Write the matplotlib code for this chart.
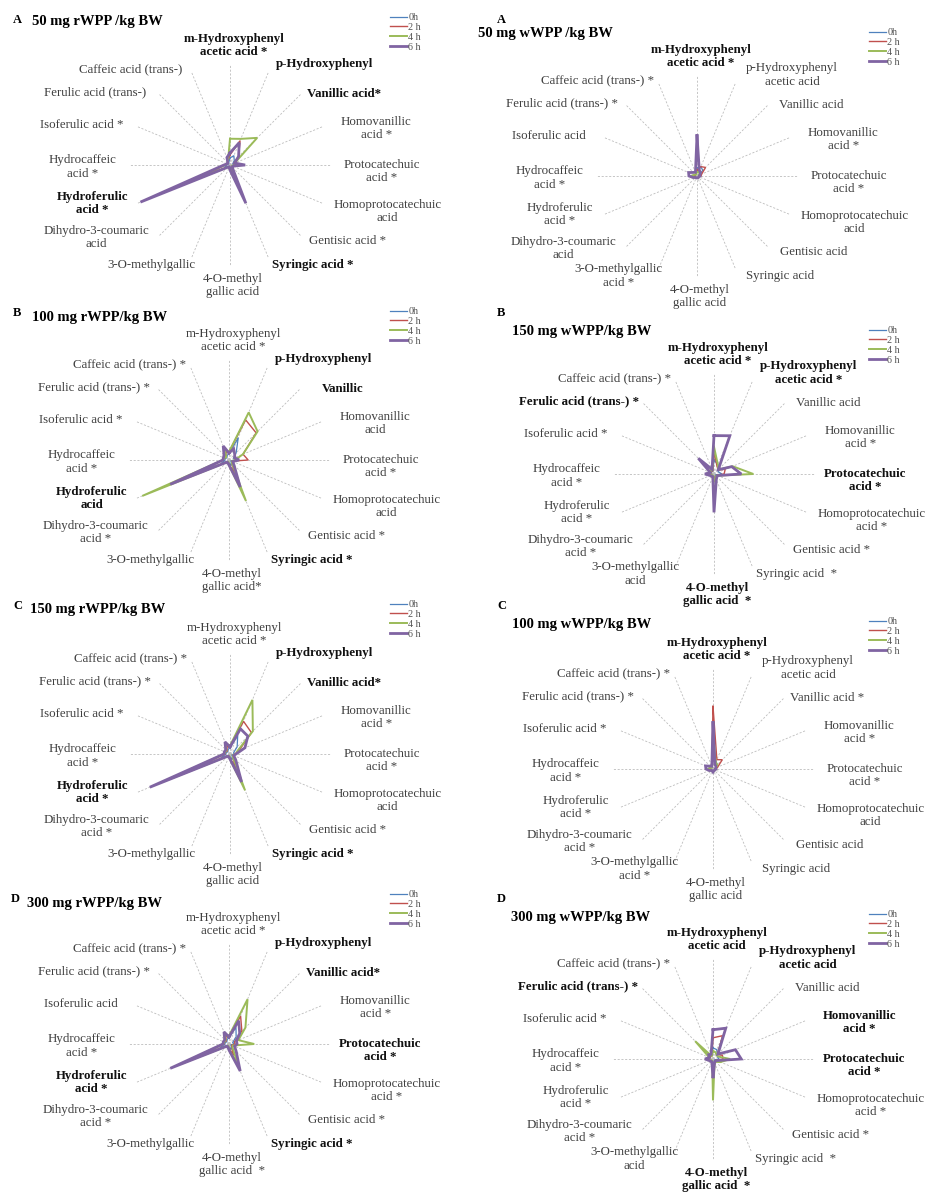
import numpy as np
import matplotlib
matplotlib.use("Agg")
import matplotlib.pyplot as plt

plt.rcParams['font.family'] = ['Liberation Serif', 'DejaVu Serif']

# axes of every radar, clockwise from the top
acids = ['m-Hydroxyphenyl acetic acid', 'p-Hydroxyphenyl acetic acid', 'Vanillic acid',
         'Homovanillic acid', 'Protocatechuic acid', 'Homoprotocatechuic acid',
         'Gentisic acid', 'Syringic acid', '4-O-methyl gallic acid', '3-O-methylgallic acid',
         'Dihydro-3-coumaric acid', 'Hydroferulic acid', 'Hydrocaffeic acid',
         'Isoferulic acid', 'Ferulic acid (trans-)', 'Caffeic acid (trans-)']
times = ['0h', '2 h', '4 h', '6 h']

# values, as a fraction of the spoke length (0h, 2h, 4h, 6h)
rwpp_50 = [
    [0.07, 0.10, 0.06, 0.03, 0.04, 0.02, 0.02, 0.05, 0.03, 0.02, 0.02, 0.06, 0.03, 0.02, 0.02, 0.03],
    [0.10, 0.26, 0.12, 0.04, 0.06, 0.02, 0.03, 0.10, 0.04, 0.02, 0.03, 0.25, 0.05, 0.03, 0.03, 0.05],
    [0.26, 0.28, 0.38, 0.05, 0.05, 0.02, 0.03, 0.18, 0.04, 0.02, 0.03, 0.50, 0.05, 0.03, 0.03, 0.05],
    [0.12, 0.24, 0.12, 0.05, 0.15, 0.03, 0.03, 0.41, 0.05, 0.02, 0.03, 0.96, 0.06, 0.03, 0.03, 0.08]]
rwpp_100 = [
    [0.06, 0.24, 0.10, 0.05, 0.06, 0.02, 0.03, 0.06, 0.03, 0.02, 0.02, 0.08, 0.04, 0.04, 0.03, 0.05],
    [0.08, 0.43, 0.38, 0.15, 0.19, 0.03, 0.04, 0.15, 0.04, 0.02, 0.03, 0.35, 0.06, 0.05, 0.04, 0.08],
    [0.08, 0.51, 0.40, 0.15, 0.06, 0.03, 0.04, 0.44, 0.05, 0.02, 0.03, 0.93, 0.06, 0.05, 0.04, 0.10],
    [0.07, 0.12, 0.08, 0.06, 0.10, 0.04, 0.07, 0.29, 0.05, 0.03, 0.03, 0.63, 0.06, 0.06, 0.07, 0.15]]
rwpp_150 = [
    [0.06, 0.20, 0.10, 0.04, 0.04, 0.02, 0.03, 0.06, 0.03, 0.02, 0.02, 0.10, 0.04, 0.04, 0.03, 0.05],
    [0.07, 0.35, 0.30, 0.10, 0.05, 0.03, 0.04, 0.15, 0.04, 0.02, 0.03, 0.40, 0.05, 0.05, 0.04, 0.08],
    [0.08, 0.58, 0.32, 0.08, 0.06, 0.03, 0.04, 0.39, 0.05, 0.02, 0.03, 0.70, 0.06, 0.05, 0.05, 0.12],
    [0.07, 0.27, 0.25, 0.16, 0.06, 0.04, 0.08, 0.30, 0.05, 0.03, 0.03, 0.86, 0.06, 0.06, 0.06, 0.13]]
rwpp_300 = [
    [0.06, 0.18, 0.10, 0.04, 0.05, 0.02, 0.03, 0.06, 0.03, 0.02, 0.02, 0.10, 0.04, 0.04, 0.03, 0.05],
    [0.08, 0.30, 0.18, 0.06, 0.06, 0.03, 0.04, 0.12, 0.04, 0.02, 0.03, 0.35, 0.05, 0.05, 0.04, 0.08],
    [0.08, 0.48, 0.23, 0.10, 0.25, 0.04, 0.05, 0.25, 0.05, 0.02, 0.03, 0.50, 0.06, 0.05, 0.05, 0.10],
    [0.07, 0.25, 0.15, 0.08, 0.08, 0.06, 0.10, 0.29, 0.06, 0.03, 0.03, 0.63, 0.06, 0.06, 0.06, 0.13]]
wwpp_50 = [
    [0.08, 0.10, 0.08, 0.03, 0.03, 0.02, 0.02, 0.02, 0.02, 0.02, 0.02, 0.02, 0.03, 0.02, 0.02, 0.03],
    [0.06, 0.10, 0.12, 0.05, 0.04, 0.02, 0.02, 0.02, 0.02, 0.02, 0.02, 0.02, 0.03, 0.02, 0.02, 0.03],
    [0.04, 0.04, 0.04, 0.02, 0.02, 0.02, 0.02, 0.02, 0.02, 0.02, 0.02, 0.04, 0.06, 0.03, 0.02, 0.02],
    [0.40, 0.06, 0.05, 0.03, 0.03, 0.02, 0.02, 0.02, 0.02, 0.02, 0.02, 0.04, 0.08, 0.09, 0.05, 0.04]]
wwpp_150 = [
    [0.14, 0.10, 0.05, 0.05, 0.08, 0.02, 0.02, 0.03, 0.05, 0.02, 0.02, 0.03, 0.04, 0.03, 0.04, 0.03],
    [0.22, 0.08, 0.06, 0.12, 0.10, 0.03, 0.03, 0.03, 0.06, 0.02, 0.02, 0.03, 0.04, 0.03, 0.05, 0.03],
    [0.27, 0.10, 0.06, 0.20, 0.39, 0.04, 0.03, 0.04, 0.08, 0.02, 0.02, 0.03, 0.05, 0.03, 0.06, 0.04],
    [0.38, 0.41, 0.06, 0.19, 0.27, 0.04, 0.04, 0.06, 0.38, 0.03, 0.03, 0.04, 0.09, 0.04, 0.22, 0.05]]
wwpp_100 = [
    [0.15, 0.08, 0.06, 0.03, 0.03, 0.02, 0.02, 0.02, 0.02, 0.02, 0.02, 0.02, 0.04, 0.03, 0.02, 0.02],
    [0.62, 0.10, 0.13, 0.05, 0.03, 0.02, 0.02, 0.02, 0.02, 0.02, 0.02, 0.02, 0.04, 0.03, 0.02, 0.03],
    [0.36, 0.07, 0.06, 0.03, 0.03, 0.02, 0.02, 0.02, 0.02, 0.02, 0.02, 0.03, 0.05, 0.03, 0.02, 0.03],
    [0.46, 0.05, 0.04, 0.03, 0.03, 0.02, 0.02, 0.02, 0.03, 0.02, 0.02, 0.04, 0.07, 0.08, 0.04, 0.03]]
wwpp_300 = [
    [0.11, 0.10, 0.06, 0.05, 0.06, 0.02, 0.02, 0.03, 0.05, 0.02, 0.02, 0.03, 0.04, 0.03, 0.04, 0.03],
    [0.21, 0.25, 0.06, 0.10, 0.10, 0.03, 0.03, 0.05, 0.10, 0.02, 0.02, 0.03, 0.04, 0.03, 0.05, 0.03],
    [0.08, 0.07, 0.05, 0.06, 0.17, 0.08, 0.04, 0.04, 0.41, 0.02, 0.02, 0.03, 0.05, 0.04, 0.25, 0.03],
    [0.29, 0.33, 0.07, 0.24, 0.28, 0.04, 0.03, 0.04, 0.19, 0.03, 0.03, 0.04, 0.08, 0.04, 0.06, 0.05]]

# axis labels per panel ('*' marks, bold = 1)
labels_rA = [('m-Hydroxyphenyl\nacetic acid *', 1), ('p-Hydroxyphenyl', 1), ('Vanillic acid*', 1),
             ('Homovanillic\nacid *', 0), ('Protocatechuic\nacid *', 0), ('Homoprotocatechuic\nacid', 0),
             ('Gentisic acid *', 0), ('Syringic acid *', 1), ('4-O-methyl\ngallic acid', 0),
             ('3-O-methylgallic', 0), ('Dihydro-3-coumaric\nacid', 0), ('Hydroferulic\nacid *', 1),
             ('Hydrocaffeic\nacid *', 0), ('Isoferulic acid *', 0), ('Ferulic acid (trans-)', 0),
             ('Caffeic acid (trans-)', 0)]
labels_rB = [('m-Hydroxyphenyl\nacetic acid *', 0), ('p-Hydroxyphenyl', 1), ('Vanillic', 1),
             ('Homovanillic\nacid', 0), ('Protocatechuic\nacid *', 0), ('Homoprotocatechuic\nacid', 0),
             ('Gentisic acid *', 0), ('Syringic acid *', 1), ('4-O-methyl\ngallic acid*', 0),
             ('3-O-methylgallic', 0), ('Dihydro-3-coumaric\nacid *', 0), ('Hydroferulic\nacid', 1),
             ('Hydrocaffeic\nacid *', 0), ('Isoferulic acid *', 0), ('Ferulic acid (trans-) *', 0),
             ('Caffeic acid (trans-) *', 0)]
labels_rC = [('m-Hydroxyphenyl\nacetic acid *', 0), ('p-Hydroxyphenyl', 1), ('Vanillic acid*', 1),
             ('Homovanillic\nacid *', 0), ('Protocatechuic\nacid *', 0), ('Homoprotocatechuic\nacid', 0),
             ('Gentisic acid *', 0), ('Syringic acid *', 1), ('4-O-methyl\ngallic acid', 0),
             ('3-O-methylgallic', 0), ('Dihydro-3-coumaric\nacid *', 0), ('Hydroferulic\nacid *', 1),
             ('Hydrocaffeic\nacid *', 0), ('Isoferulic acid *', 0), ('Ferulic acid (trans-) *', 0),
             ('Caffeic acid (trans-) *', 0)]
labels_rD = [('m-Hydroxyphenyl\nacetic acid *', 0), ('p-Hydroxyphenyl', 1), ('Vanillic acid*', 1),
             ('Homovanillic\nacid *', 0), ('Protocatechuic\nacid *', 1), ('Homoprotocatechuic\nacid *', 0),
             ('Gentisic acid *', 0), ('Syringic acid *', 1), ('4-O-methyl\ngallic acid  *', 0),
             ('3-O-methylgallic', 0), ('Dihydro-3-coumaric\nacid *', 0), ('Hydroferulic\nacid *', 1),
             ('Hydrocaffeic\nacid *', 0), ('Isoferulic acid', 0), ('Ferulic acid (trans-) *', 0),
             ('Caffeic acid (trans-) *', 0)]
labels_wA = [('m-Hydroxyphenyl\nacetic acid *', 1), ('p-Hydroxyphenyl\nacetic acid', 0), ('Vanillic acid', 0),
             ('Homovanillic\nacid *', 0), ('Protocatechuic\nacid *', 0), ('Homoprotocatechuic\nacid', 0),
             ('Gentisic acid', 0), ('Syringic acid', 0), ('4-O-methyl\ngallic acid', 0),
             ('3-O-methylgallic\nacid *', 0), ('Dihydro-3-coumaric\nacid', 0), ('Hydroferulic\nacid *', 0),
             ('Hydrocaffeic\nacid *', 0), ('Isoferulic acid', 0), ('Ferulic acid (trans-) *', 0),
             ('Caffeic acid (trans-) *', 0)]
labels_wB = [('m-Hydroxyphenyl\nacetic acid *', 1), ('p-Hydroxyphenyl\nacetic acid *', 1), ('Vanillic acid', 0),
             ('Homovanillic\nacid *', 0), ('Protocatechuic\nacid *', 1), ('Homoprotocatechuic\nacid *', 0),
             ('Gentisic acid *', 0), ('Syringic acid  *', 0), ('4-O-methyl\ngallic acid  *', 1),
             ('3-O-methylgallic\nacid', 0), ('Dihydro-3-coumaric\nacid *', 0), ('Hydroferulic\nacid *', 0),
             ('Hydrocaffeic\nacid *', 0), ('Isoferulic acid *', 0), ('Ferulic acid (trans-) *', 1),
             ('Caffeic acid (trans-) *', 0)]
labels_wC = [('m-Hydroxyphenyl\nacetic acid *', 1), ('p-Hydroxyphenyl\nacetic acid', 0), ('Vanillic acid *', 0),
             ('Homovanillic\nacid *', 0), ('Protocatechuic\nacid *', 0), ('Homoprotocatechuic\nacid', 0),
             ('Gentisic acid', 0), ('Syringic acid', 0), ('4-O-methyl\ngallic acid', 0),
             ('3-O-methylgallic\nacid *', 0), ('Dihydro-3-coumaric\nacid *', 0), ('Hydroferulic\nacid *', 0),
             ('Hydrocaffeic\nacid *', 0), ('Isoferulic acid *', 0), ('Ferulic acid (trans-) *', 0),
             ('Caffeic acid (trans-) *', 0)]
labels_wD = [('m-Hydroxyphenyl\nacetic acid', 1), ('p-Hydroxyphenyl\nacetic acid', 1), ('Vanillic acid', 0),
             ('Homovanillic\nacid *', 1), ('Protocatechuic\nacid *', 1), ('Homoprotocatechuic\nacid *', 0),
             ('Gentisic acid *', 0), ('Syringic acid  *', 0), ('4-O-methyl\ngallic acid  *', 1),
             ('3-O-methylgallic\nacid', 0), ('Dihydro-3-coumaric\nacid *', 0), ('Hydroferulic\nacid *', 0),
             ('Hydrocaffeic\nacid *', 0), ('Isoferulic acid *', 0), ('Ferulic acid (trans-) *', 1),
             ('Caffeic acid (trans-) *', 0)]

W, H = 926, 1199
fig = plt.figure(figsize=(W / 100, H / 100), dpi=100)

colors = ['#4F81BD', '#C0504D', '#9BBB59', '#8064A2']
widths = [0.9, 1.0, 1.4, 2.0]
R = 101  # spoke length in px

# label offsets (x, y) in spoke lengths from the centre
lab_off = [(0.04, 1.18), (0.94, 1.0), (1.13, 0.70), (1.45, 0.36), (1.50, -0.06), (1.56, -0.46),
           (1.16, -0.75), (0.82, -0.99), (0.03, -1.19), (-0.78, -0.99), (-1.32, -0.72),
           (-1.36, -0.38), (-1.46, -0.02), (-1.47, 0.40), (-1.34, 0.72), (-0.98, 0.95)]

# panel: data, labels, centre px, letter (x, y), title text (x, y), legend (x, y)
panels = [
    (rwpp_50, labels_rA, (230, 165), 'A', (13, 20), '50 mg rWPP /kg BW', (32, 22), (390, 13)),
    (rwpp_100, labels_rB, (229, 460), 'B', (13, 313), '100 mg rWPP/kg BW', (32, 317), (390, 307)),
    (rwpp_150, labels_rC, (230, 754), 'C', (13, 606), '150 mg rWPP/kg BW', (30, 610), (390, 600)),
    (rwpp_300, labels_rD, (229, 1044), 'D', (11, 899), '300 mg rWPP/kg BW', (27, 903), (390, 890)),
    (wwpp_50, labels_wA, (697, 176), 'A', (497, 20), '50 mg wWPP /kg BW', (478, 34), (869, 28)),
    (wwpp_150, labels_wB, (714, 474), 'B', (497, 313), '150 mg wWPP/kg BW', (512, 331), (869, 326)),
    (wwpp_100, labels_wC, (713, 769), 'C', (497, 606), '100 mg wWPP/kg BW', (512, 624), (869, 617)),
    (wwpp_300, labels_wD, (713, 1059), 'D', (497, 899), '300 mg wWPP/kg BW', (511, 917), (869, 910)),
]

angles = np.linspace(0, 2 * np.pi, len(acids), endpoint=False)
closed = np.append(angles, angles[0])

for data, labs, (cx, cy), letter, (lx, ly), title, (tx, ty), (gx, gy) in panels:
    ax = fig.add_axes([(cx - R) / W, (H - cy - R) / H, 2 * R / W, 2 * R / H], projection='polar')
    ax.set_theta_zero_location('N')
    ax.set_theta_direction(-1)
    ax.set_ylim(0, 1)
    ax.set_xticks(angles)
    ax.set_xticklabels([])
    ax.set_yticks([])
    ax.spines['polar'].set_visible(False)
    ax.patch.set_alpha(0)
    ax.xaxis.grid(True, color='#bdbdbd', linestyle=(0, (2.5, 2)), linewidth=0.6)

    handles = []
    for k, vals in enumerate(data):
        h, = ax.plot(closed, np.append(vals, vals[0]), color=colors[k], lw=widths[k],
                     solid_joinstyle='miter')
        handles.append(h)

    for (ox, oy), (txt, bold) in zip(lab_off, labs):
        ax.text(np.arctan2(ox, oy), np.hypot(ox, oy), txt, ha='center', va='center',
                multialignment='center', fontsize=9.3, linespacing=1.12,
                fontweight='bold' if bold else 'normal',
                color='#111111' if bold else '#3f3f3f')

    ax.legend(handles, times, loc='upper left', bbox_to_anchor=(gx / W, 1 - gy / H),
              bbox_transform=fig.transFigure, frameon=False, fontsize=7.3,
              handlelength=1.7, handletextpad=0.1, labelspacing=0.08,
              borderpad=0, borderaxespad=0, labelcolor='#555555')

    fig.text(lx / W, 1 - ly / H, letter, ha='left', va='center', fontsize=9, fontweight='bold')
    fig.text(tx / W, 1 - ty / H, title, ha='left', va='center', fontsize=10.5, fontweight='bold')

fig.savefig('out.png', dpi=100, facecolor='white')
